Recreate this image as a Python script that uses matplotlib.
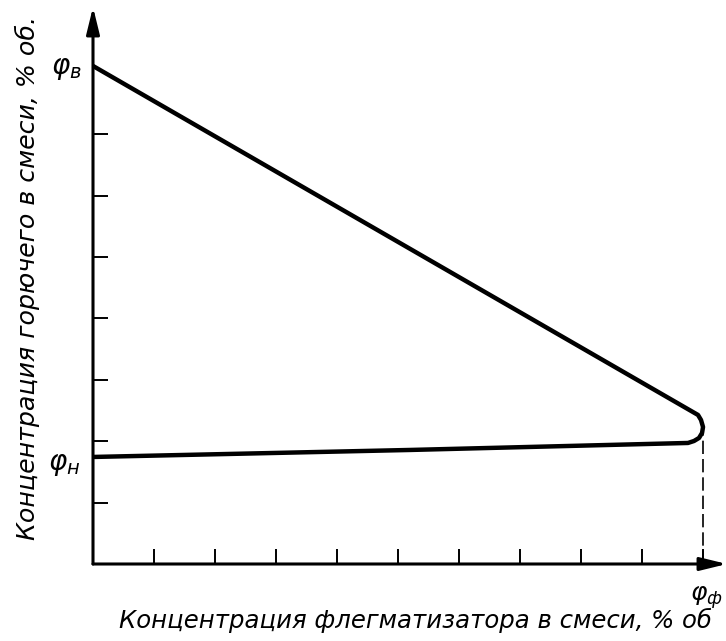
import matplotlib
matplotlib.use("Agg")
import matplotlib.pyplot as plt

# ---- data (axis units = tick divisions) ----
curve_x = [0.0, 9.918, 9.967, 10.0, 9.984, 9.934, 9.852, 9.754, 5.197, 0.0]
curve_y = [8.11, 2.427, 2.345, 2.231, 2.134, 2.052, 2.003, 1.971, 1.857, 1.743]
x_ticks = [1, 2, 3, 4, 5, 6, 7, 8, 9, 10]
y_ticks = [1, 2, 3, 4, 5, 6, 7]
phi_f_x = 10.0          # flegmatizer limit
x_max, y_max = 10.393, 9.07

xlabel = "Концентрация флегматизатора в смеси, % об"
ylabel = "Концентрация горючего в смеси, % об."

plt.rcParams['font.family'] = ['DejaVu Sans']
plt.rcParams['mathtext.fontset'] = 'dejavusans'

W, H = 726, 641
fig = plt.figure(figsize=(W / 100, H / 100), dpi=100)
ax = fig.add_axes([93 / W, (H - 564) / H, 634 / W, 557 / H])
ax.set_xlim(0, x_max)
ax.set_ylim(0, y_max)
for s in ax.spines.values():
    s.set_visible(False)
ax.set_xticks(x_ticks)
ax.set_yticks(y_ticks)
ax.set_xticklabels([])
ax.set_yticklabels([])
ax.tick_params(direction='in', length=10.8, width=1.4, color='black')

# axes with arrows
arrow = dict(arrowstyle='-|>,head_length=0.9,head_width=0.22', lw=2.2,
             color='black', mutation_scale=18, shrinkA=0, shrinkB=0)
ax.annotate('', xy=(0, 1), xytext=(0, 0), xycoords='axes fraction',
            textcoords='axes fraction', arrowprops=arrow, annotation_clip=False)
ax.annotate('', xy=(1, 0), xytext=(0, 0), xycoords='axes fraction',
            textcoords='axes fraction', arrowprops=arrow, annotation_clip=False)

# main curve
ax.plot(curve_x, curve_y, color='black', lw=3.2, solid_joinstyle='round',
        solid_capstyle='butt', clip_on=False)
# dashed drop line
ax.plot([phi_f_x, phi_f_x], [0, 2.13], color='black', lw=1.2, dashes=(8, 3))

# labels
fig.text(66 / W, 1 - 68 / H, r'$\varphi_{в}$', fontsize=20, ha='center', va='center')
fig.text(64 / W, 1 - 464 / H, r'$\varphi_{н}$', fontsize=20, ha='center', va='center')
fig.text(723 / W, 1 - 598 / H, r'$\varphi_{ф}$', fontsize=18, ha='right', va='center')

fig.text(415 / W, 1 - 620 / H, xlabel, style='italic', fontsize=17.6,
         ha='center', va='center')
fig.text(27 / W, 1 - 278 / H, ylabel, style='italic', fontsize=18.2,
         rotation=90, ha='center', va='center')

fig.savefig('out.png', dpi=100)
